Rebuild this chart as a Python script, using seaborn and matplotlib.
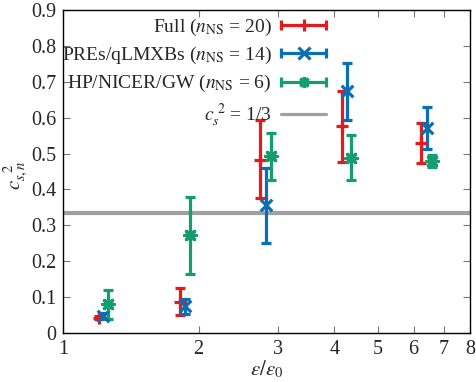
import numpy as np
import pandas as pd
import seaborn as sns
import matplotlib.pyplot as plt
from matplotlib.lines import Line2D
from matplotlib.legend_handler import HandlerBase

# values
series_names = ["Full", "PREs/qLMXBs", "HP/NICER/GW"]
n_ns = [20, 14, 6]

full_x = [1.20, 1.82, 2.74, 4.16, 6.24]
full_y = [0.042, 0.088, 0.482, 0.577, 0.530]
full_lo = [0.038, 0.050, 0.375, 0.477, 0.473]
full_hi = [0.048, 0.127, 0.593, 0.673, 0.586]

pre_x = [1.225, 1.866, 2.82, 4.26, 6.43]
pre_y = [0.048, 0.076, 0.357, 0.675, 0.572]
pre_lo = [0.043, 0.053, 0.252, 0.593, 0.514]
pre_hi = [0.055, 0.095, 0.459, 0.753, 0.629]

hp_x = [1.26, 1.91, 2.90, 4.36, 6.59]
hp_y = [0.080, 0.273, 0.494, 0.489, 0.480]
hp_lo = [0.038, 0.165, 0.426, 0.426, 0.462]
hp_hi = [0.121, 0.379, 0.558, 0.552, 0.496]

conformal = 1 / 3
x_ticks = [1, 2, 3, 4, 5, 6, 7, 8]
y_ticks = [0, 0.1, 0.2, 0.3, 0.4, 0.5, 0.6, 0.7, 0.8, 0.9]

colors = ["#e41a1c", "#0a6fb5", "#129e6e"]
markers = ["+", "x", (8, 2, 0)]

sns.set_theme(style="ticks")
plt.rcParams["font.family"] = ["Liberation Serif", "DejaVu Serif"]
plt.rcParams["mathtext.fontset"] = "stix"
plt.rcParams["xtick.direction"] = "in"
plt.rcParams["ytick.direction"] = "in"


class CapHandler(HandlerBase):
    # gnuplot-like key: horizontal bar with end caps and the point in the middle
    def create_artists(self, legend, orig_handle, xdescent, ydescent,
                       width, height, fontsize, trans):
        col = orig_handle.get_color()
        mk = orig_handle.get_marker()
        y = height / 2 - ydescent
        x0, x1 = -xdescent, width - xdescent
        bar = Line2D([x0, x1], [y, y], color=col, lw=2.3)
        caps = Line2D([x0, x1], [y, y], ls="none", marker="|", ms=7,
                      mew=2.3, color=col)
        pt = Line2D([(x0 + x1) / 2], [y], ls="none", marker=mk, ms=8,
                    mew=2.3, color=col)
        arts = [bar]
        if mk != "None":
            arts += [caps, pt]
        for a in arts:
            a.set_transform(trans)
        return arts


frames = []
for name, xs, ys, lo, hi in zip(series_names,
                                [full_x, pre_x, hp_x],
                                [full_y, pre_y, hp_y],
                                [full_lo, pre_lo, hp_lo],
                                [full_hi, pre_hi, hp_hi]):
    frames.append(pd.DataFrame({"set": name, "x": xs, "y": ys, "lo": lo, "hi": hi}))
df = pd.concat(frames, ignore_index=True)

fig = plt.figure(figsize=(4.77, 3.82), dpi=100)
ax = fig.add_axes([0.132, 0.128, 0.853, 0.846])

ax.axhline(conformal, color="#a0a0a0", lw=3, zorder=1)

handles = []
for name, n, col, mk in zip(series_names, n_ns, colors, markers):
    sub = df[df["set"] == name]
    yerr = np.vstack([sub["y"] - sub["lo"], sub["hi"] - sub["y"]])
    ax.errorbar(sub["x"], sub["y"], yerr=yerr, fmt="none", ecolor=col,
                elinewidth=2.3, capsize=3.8, capthick=2.3, zorder=2)
    handles.append(Line2D([], [], color=col, marker=mk,
                          label=name + r" ($n_{\rm NS}$ = %d)" % n))

for name, col, mk in zip(series_names, colors, markers):
    sub = df[df["set"] == name]
    sns.scatterplot(data=sub, x="x", y="y", ax=ax, color=col, marker=mk,
                    s=70, linewidth=2.3, edgecolor=col, legend=False, zorder=3)

handles.append(Line2D([], [], color="#a0a0a0", marker="None",
                      label=r"$c_s^{\ 2}$ = 1/3"))

ax.set_xscale("log")
ax.set_xlim(1, 8)
ax.set_ylim(0, 0.9)
ax.set_xticks(x_ticks)
ax.set_xticklabels([str(t) for t in x_ticks])
ax.xaxis.set_minor_locator(plt.NullLocator())
ax.set_yticks(y_ticks)
ax.set_yticklabels(["0"] + ["%.1f" % t for t in y_ticks[1:]])
ax.tick_params(axis="both", which="major", labelsize=14.5, length=5,
               width=0.8, color="#777777", top=True, right=True, pad=5)
for sp in ax.spines.values():
    sp.set_linewidth(1.0)
    sp.set_color("black")

ax.set_xlabel(r"$\varepsilon/\varepsilon_0$", fontsize=15, labelpad=0)
ax.set_ylabel(r"$c_{s,n}^{\ \ 2}$", fontsize=15)
ax.yaxis.set_label_coords(-0.08, 0.49)

leg = ax.legend(handles=handles, loc="upper right",
                bbox_to_anchor=(0.656, 0.99), markerfirst=False, frameon=False,
                fontsize=14, handlelength=2.3, handletextpad=0.5,
                labelspacing=0.36, borderaxespad=0, borderpad=0.2,
                handler_map={Line2D: CapHandler()})
for t in leg.get_texts():
    t.set_ha("right")

fig.savefig("out.png", dpi=100)
